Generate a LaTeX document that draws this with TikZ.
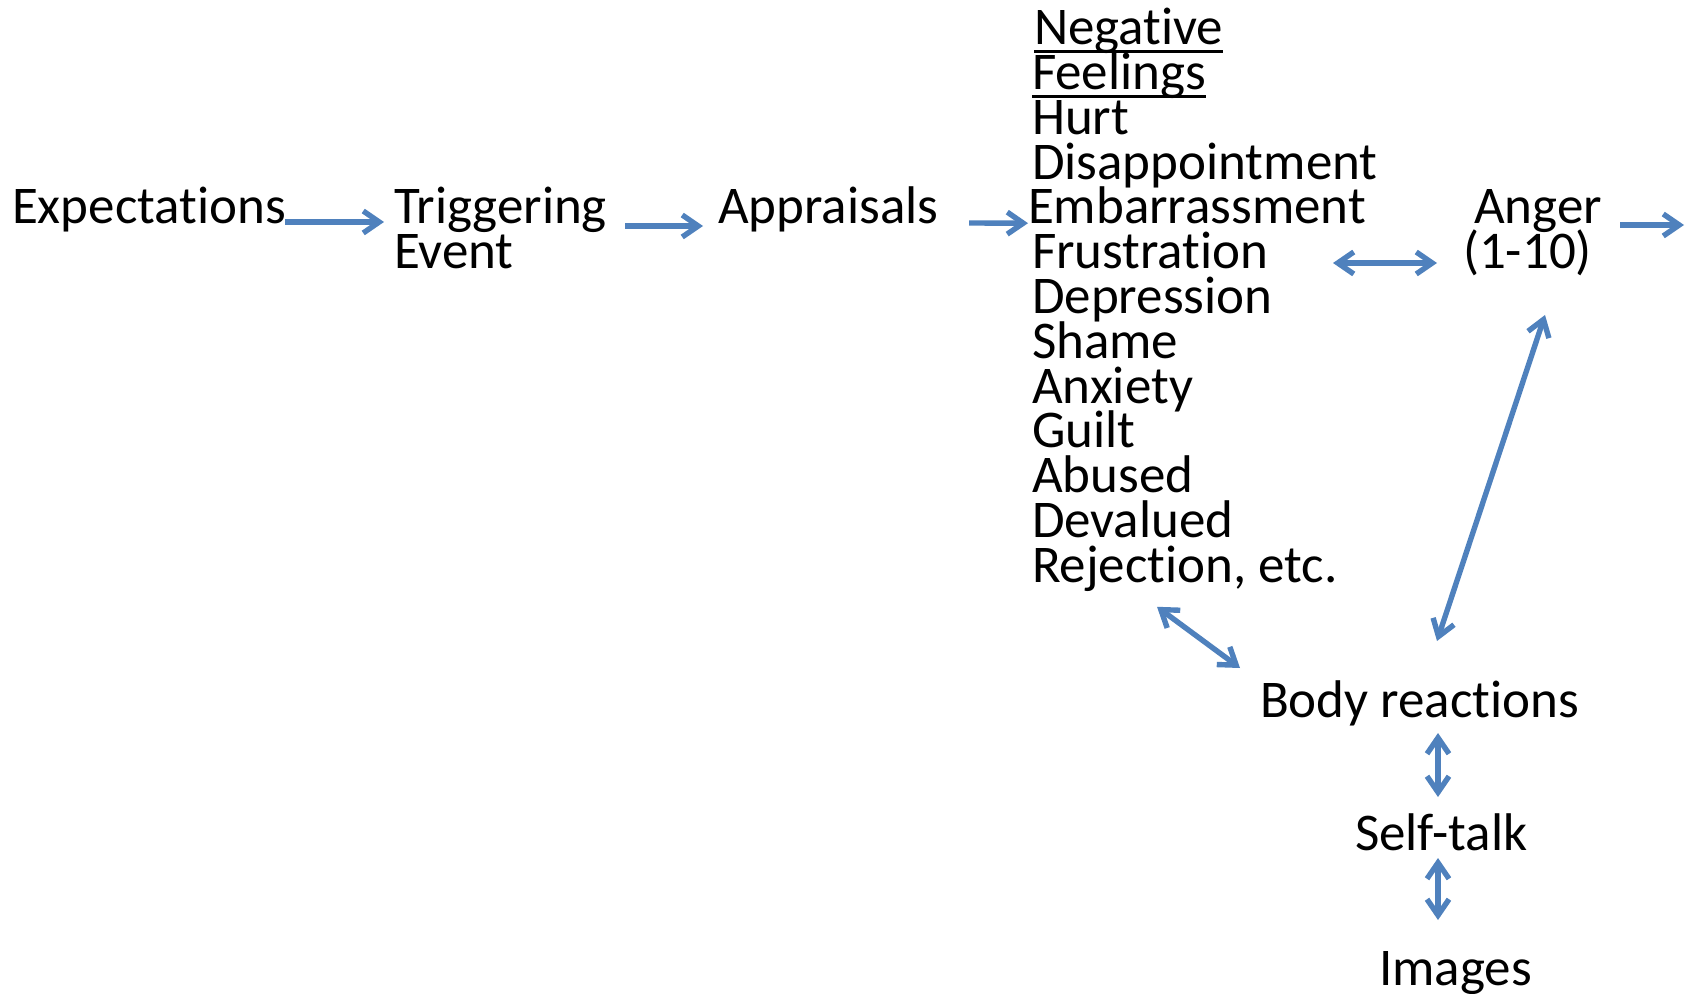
\documentclass[tikz,border=0pt]{standalone}
\usepackage{fontspec}
\setmainfont{Carlito}[Ligatures={NoCommon,NoContextual,NoRare,NoRequired},Contextuals=NoAlternate]
\usetikzlibrary{arrows.meta}
\definecolor{arrowblue}{HTML}{4F81BD}
\newcommand\myul[1]{\setbox0\hbox{#1}\rlap{\rule[-4.25pt]{\wd0}{1.5pt}}\box0}
\newcommand\linestack[1]{\vtop{\baselineskip=22.4pt\lineskiplimit=-100pt\lineskip=0pt #1}}
\newcommand\nolig{\kern0pt }
\begin{document}
\begin{tikzpicture}[x=0.5pt,y=-0.5pt,
  lbl/.style={inner sep=0pt, outer sep=0pt, anchor=base west, font=\fontsize{26.5pt}{22.4pt}\selectfont},
  conn/.style={draw=arrowblue, line width=2.7pt, -{Straight Barb[length=8pt,width=11pt]}},
  dconn/.style={conn, {Straight Barb[length=8pt,width=11pt]}-{Straight Barb[length=8pt,width=11pt]}}]
\useasboundingbox (0,0) rectangle (1692,994);

\node[lbl] (exp) at (12,224) {Expectat\nolig ions};
\node[lbl] (trig) at (394,224) {\linestack{\hbox{Triggering}\hbox{Event}}};
\node[lbl] (app) at (718,224) {Appraisals};
\node[lbl] (feel) at (1032,44.8) {\linestack{%
  \hbox{\kern1pt\myul{Negat\nolig ive}}%
  \hbox{\myul{Feelings}}%
  \hbox{Hurt}%
  \hbox{Disappointment}%
  \hbox{\kern-2pt Embarrassment}%
  \hbox{Frustrat\nolig ion}%
  \hbox{Depression}%
  \hbox{Shame}%
  \hbox{Anxiety}%
  \hbox{Guilt}%
  \hbox{Abused}%
  \hbox{Devalued}%
  \hbox{Reject\nolig ion, etc.}}};
\node[lbl] (anger) at (1463,224) {\linestack{\hbox{\kern5.5pt Anger}\hbox{(1-10)}}};
\node[lbl] (body) at (1260,717) {Body react\nolig ions};
\node[lbl] (self) at (1355,850) {Self-talk};
\node[lbl] (img) at (1379,985) {Images};

\draw[conn] ([shift={(273,-2)}]exp.base west) -- ([shift={(-10,-2)}]trig.base west);
\draw[conn] ([shift={(231,2)}]trig.base west) -- ([shift={(-15,2)}]app.base west);
\draw[conn] ([shift={(251,-1)}]app.base west) -- ([shift={(-4,178.4)}]feel.base west);
\draw[conn] ([shift={(157,1)}]anger.base west) -- ([shift={(221,1)}]anger.base west);
\draw[dconn] ([shift={(-130,39)}]anger.base west) -- ([shift={(-26,39)}]anger.base west);
\draw[dconn] ([shift={(82,91)}]anger.base west) -- ([shift={(177,-76)}]body.base west);
\draw[dconn] ([shift={(125,562)}]feel.base west) -- ([shift={(-20,-49)}]body.base west);
\draw[dconn] ([shift={(178,16)}]body.base west) -- ([shift={(83,-53)}]self.base west);
\draw[dconn] ([shift={(83,8)}]self.base west) -- ([shift={(59,-65)}]img.base west);
\end{tikzpicture}
\end{document}
